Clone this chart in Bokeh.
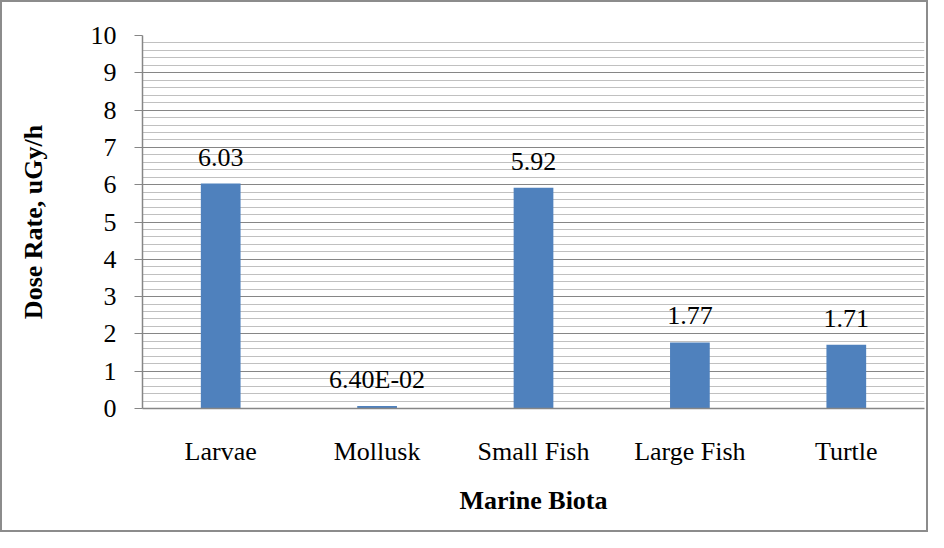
from bokeh.plotting import figure
from bokeh.models import Range1d, SingleIntervalTicker, ColumnDataSource, LabelSet
from bokeh.core.properties import value
from bokeh.embed import file_html
from bokeh.resources import INLINE

categories = ["Larvae", "Mollusk", "Small Fish", "Large Fish", "Turtle"]
dose_rates = [6.03, 0.064, 5.92, 1.77, 1.71]
value_labels = ["6.03", "6.40E-02", "5.92", "1.77", "1.71"]
y_ticks_interval = 1
y_max = 10

FONT = "Liberation Serif"

p = figure(x_range=categories, y_range=Range1d(0, y_max),
           width=928, height=532, output_backend="svg", toolbar_location=None,
           min_border_left=140, min_border_right=6, min_border_top=33, min_border_bottom=126)
p.styles = {"border": "2px solid #8c8c8c", "box-sizing": "border-box"}
p.outline_line_color = None
p.background_fill_color = "white"
p.border_fill_color = "white"

src = ColumnDataSource(dict(x=categories, top=dose_rates, lab=value_labels))
p.vbar(x="x", top="top", width=0.254, source=src, fill_color="#4f81bd", line_color=None)
labels = LabelSet(x="x", y="top", text="lab", source=src, text_align="center",
                  text_baseline="alphabetic", y_offset=18, text_font=value(FONT),
                  text_font_size="26px", text_color="black")
p.add_layout(labels)

ticker = SingleIntervalTicker(interval=y_ticks_interval, num_minor_ticks=5)
p.yaxis.ticker = ticker
p.ygrid.ticker = ticker
p.ygrid.grid_line_color = "#868686"
p.ygrid.grid_line_width = 1.2
p.ygrid.minor_grid_line_color = "#c0c0c0"
p.ygrid.minor_grid_line_width = 1.2
p.xgrid.grid_line_color = None

for ax in (p.xaxis[0], p.yaxis[0]):
    ax.axis_line_color = "#868686"
    ax.axis_line_width = 1.5
    ax.major_tick_line_color = "#868686"
    ax.minor_tick_line_color = None
    ax.major_label_text_font = FONT
    ax.major_label_text_font_size = "26px"
    ax.major_label_text_color = "black"
    ax.axis_label_text_font = FONT
    ax.axis_label_text_font_size = "26px"
    ax.axis_label_text_font_style = "bold"
    ax.axis_label_text_color = "black"

p.yaxis.major_tick_out = 8
p.yaxis.major_tick_in = 0
p.yaxis.major_label_standoff = 18
p.yaxis.axis_label = "Dose Rate, uGy/h"
p.yaxis.axis_label_standoff = 40

p.xaxis.major_tick_line_color = None
p.xaxis.major_tick_out = 0
p.xaxis.major_tick_in = 0
p.xaxis.major_label_standoff = 28
p.xaxis.axis_label = "Marine Biota"
p.xaxis.axis_label_standoff = 17

open("out.html", "w").write(file_html(p, INLINE))
